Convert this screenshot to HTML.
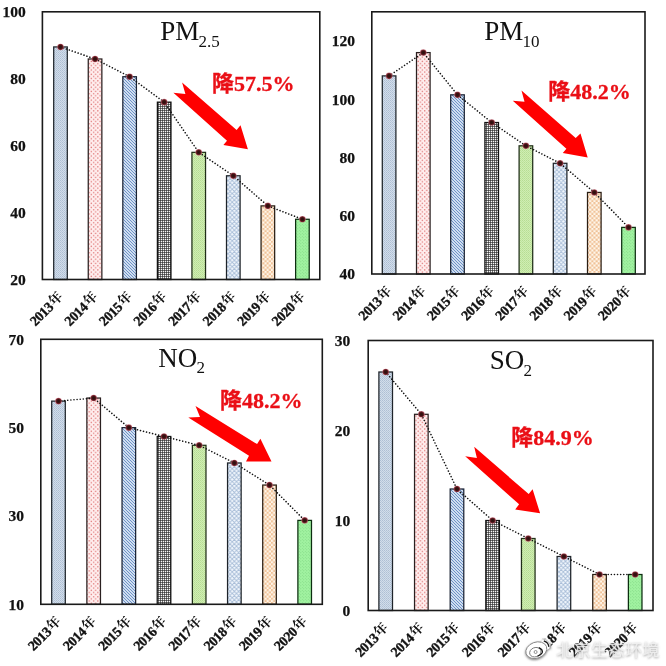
<!DOCTYPE html>
<html><head><meta charset="utf-8"><style>
html,body{margin:0;padding:0;background:#fff;width:666px;height:666px;overflow:hidden}
svg{display:block}
.yl{font-family:"Liberation Serif",serif;font-weight:bold;font-size:15.5px;text-anchor:end;fill:#111;stroke:#111;stroke-width:0.25px}
.xl{font-family:"Liberation Serif","Noto Serif CJK SC",serif;font-weight:bold;font-size:14px;text-anchor:end;fill:#111;stroke:#111;stroke-width:0.35px;letter-spacing:-0.4px}
.nian{font-family:"Noto Serif CJK SC",serif;font-weight:700;font-size:13.5px;stroke-width:0;letter-spacing:0}
.tt{font-family:"Liberation Serif",serif;font-size:27px;fill:#111}
.sub{font-size:17px}
.rt{font-family:"Liberation Serif",serif;font-weight:bold;font-size:22px;fill:#ea0f16;stroke:#ea0f16;stroke-width:0.3px}
.jiang{font-family:"Noto Sans CJK SC",sans-serif;font-weight:bold}
.wmt{font-family:"Liberation Sans","Noto Sans CJK SC",sans-serif;font-size:17px;fill:#f6f6f6;letter-spacing:0.2px}
</style></head><body>
<svg width="666" height="666" viewBox="0 0 666 666">
<defs>
<pattern id="p13" width="2" height="2" patternUnits="userSpaceOnUse">
 <rect width="2" height="2" fill="#d2ddea"/><rect width="1" height="1" fill="#aebfd4"/><rect x="1" y="1" width="1" height="1" fill="#b8c8db"/></pattern>
<pattern id="p14" width="4.3" height="4.3" patternUnits="userSpaceOnUse">
 <rect width="4.3" height="4.3" fill="#ffeeee"/><circle cx="1.1" cy="1.1" r="0.75" fill="#e07a7a"/><circle cx="3.25" cy="3.25" r="0.75" fill="#e07a7a"/></pattern>
<pattern id="p15" width="3" height="3" patternUnits="userSpaceOnUse">
 <rect width="3" height="3" fill="#f2f9ff"/><path d="M0 0L0.66 0L3 2.34L3 3L2.34 3L0 0.66Z M2.34 0L3 0L3 0.66Z M0 2.34L0 3L0.66 3Z" fill="#6288c2"/></pattern>
<pattern id="p16" width="2" height="2" patternUnits="userSpaceOnUse">
 <rect width="2" height="2" fill="#f8f8f8"/><rect width="2" height="0.62" fill="#222"/><rect width="0.62" height="2" fill="#222"/></pattern>
<pattern id="p17" width="2" height="2" patternUnits="userSpaceOnUse">
 <rect width="2" height="2" fill="#cfeeb2"/><rect width="1" height="1" fill="#b7dc94"/><rect x="1" y="1" width="1" height="1" fill="#bfe29e"/></pattern>
<pattern id="p18" width="4.3" height="4.3" patternUnits="userSpaceOnUse">
 <rect width="4.3" height="4.3" fill="#f2f7fd"/><path d="M0 0L2.15 2.15L0 4.3M4.3 0L2.15 2.15L4.3 4.3" fill="none" stroke="#a8bdd8" stroke-width="0.9"/></pattern>
<pattern id="p19" width="4.3" height="4.3" patternUnits="userSpaceOnUse">
 <rect width="4.3" height="4.3" fill="#fff6ea"/><rect width="2.15" height="2.15" fill="#f0c298"/><rect x="2.15" y="2.15" width="2.15" height="2.15" fill="#f0c298"/></pattern>
<pattern id="p20" width="3" height="3" patternUnits="userSpaceOnUse">
 <rect width="3" height="3" fill="#a0f2a0"/><circle cx="0.8" cy="0.8" r="0.42" fill="#62be68"/><circle cx="2.3" cy="2.3" r="0.42" fill="#72c878"/></pattern>
<radialGradient id="mk"><stop offset="0" stop-color="#2a0e0e"/><stop offset="0.5" stop-color="#3e1212"/><stop offset="0.78" stop-color="#7a2832"/><stop offset="1" stop-color="#c26a78" stop-opacity="0.85"/></radialGradient>
</defs>
<g><rect x="53.7" y="46.94" width="13.6" height="232.56" fill="url(#p13)" stroke="#1e2329" stroke-width="1.25"/>
<rect x="88.26" y="58.98" width="13.6" height="220.52" fill="url(#p14)" stroke="#2a2020" stroke-width="1.25"/>
<rect x="122.82" y="76.72" width="13.6" height="202.78" fill="url(#p15)" stroke="#1a2233" stroke-width="1.25"/>
<rect x="157.38" y="102.15" width="13.6" height="177.35" fill="url(#p16)" stroke="#111111" stroke-width="1.25"/>
<rect x="191.94" y="152.34" width="13.6" height="127.16" fill="url(#p17)" stroke="#1f2e17" stroke-width="1.25"/>
<rect x="226.5" y="175.77" width="13.6" height="103.73" fill="url(#p18)" stroke="#1e2329" stroke-width="1.25"/>
<rect x="261.06" y="205.88" width="13.6" height="73.62" fill="url(#p19)" stroke="#2a1e14" stroke-width="1.25"/>
<rect x="295.62" y="219.27" width="13.6" height="60.23" fill="url(#p20)" stroke="#0c2e10" stroke-width="1.25"/>
<rect x="42.4" y="11.8" width="277.4" height="267.7" fill="none" stroke="#1a1a1a" stroke-width="1.6"/>
<polyline points="60.5,46.94 95.06,58.98 129.62,76.72 164.18,102.15 198.74,152.34 233.3,175.77 267.86,205.88 302.42,219.27" fill="none" stroke="#111" stroke-width="1.6" stroke-linecap="round" stroke-dasharray="0.01 3.1"/>
<circle cx="60.5" cy="46.94" r="3.3" fill="url(#mk)"/>
<circle cx="95.06" cy="58.98" r="3.3" fill="url(#mk)"/>
<circle cx="129.62" cy="76.72" r="3.3" fill="url(#mk)"/>
<circle cx="164.18" cy="102.15" r="3.3" fill="url(#mk)"/>
<circle cx="198.74" cy="152.34" r="3.3" fill="url(#mk)"/>
<circle cx="233.3" cy="175.77" r="3.3" fill="url(#mk)"/>
<circle cx="267.86" cy="205.88" r="3.3" fill="url(#mk)"/>
<circle cx="302.42" cy="219.27" r="3.3" fill="url(#mk)"/>
<text x="25.8" y="284.9" class="yl">20</text>
<text x="25.8" y="217.97" class="yl">40</text>
<text x="25.8" y="151.05" class="yl">60</text>
<text x="25.8" y="84.12" class="yl">80</text>
<text x="25.8" y="17.2" class="yl">100</text>
<text x="64.3" y="297.9" class="xl" transform="rotate(-45 64.3 297.9)">2013<tspan class="nian" dx="0.9" dy="-0.9">年</tspan></text>
<text x="98.86" y="297.9" class="xl" transform="rotate(-45 98.86 297.9)">2014<tspan class="nian" dx="0.9" dy="-0.9">年</tspan></text>
<text x="133.42" y="297.9" class="xl" transform="rotate(-45 133.42 297.9)">2015<tspan class="nian" dx="0.9" dy="-0.9">年</tspan></text>
<text x="167.98" y="297.9" class="xl" transform="rotate(-45 167.98 297.9)">2016<tspan class="nian" dx="0.9" dy="-0.9">年</tspan></text>
<text x="202.54" y="297.9" class="xl" transform="rotate(-45 202.54 297.9)">2017<tspan class="nian" dx="0.9" dy="-0.9">年</tspan></text>
<text x="237.1" y="297.9" class="xl" transform="rotate(-45 237.1 297.9)">2018<tspan class="nian" dx="0.9" dy="-0.9">年</tspan></text>
<text x="271.66" y="297.9" class="xl" transform="rotate(-45 271.66 297.9)">2019<tspan class="nian" dx="0.9" dy="-0.9">年</tspan></text>
<text x="306.22" y="297.9" class="xl" transform="rotate(-45 306.22 297.9)">2020<tspan class="nian" dx="0.9" dy="-0.9">年</tspan></text>
<text x="160.2" y="40.4" class="tt">PM<tspan class="sub" dx="-0.8" dy="6.3">2.5</tspan></text>
<polygon points="182.1,82.6 236.6,130 240.5,125.2 247.9,149.2 223.4,145 227,140.8 173.4,92.8 185.4,94" fill="#ff0000"/>
<text x="212" y="90.5" class="rt"><tspan class="jiang">降</tspan>57.5%</text></g>
<g><rect x="382.3" y="75.89" width="13.6" height="198.11" fill="url(#p13)" stroke="#1e2329" stroke-width="1.25"/>
<rect x="416.5" y="52.59" width="13.6" height="221.41" fill="url(#p14)" stroke="#2a2020" stroke-width="1.25"/>
<rect x="450.7" y="94.83" width="13.6" height="179.17" fill="url(#p15)" stroke="#1a2233" stroke-width="1.25"/>
<rect x="484.9" y="122.51" width="13.6" height="151.49" fill="url(#p16)" stroke="#111111" stroke-width="1.25"/>
<rect x="519.1" y="145.81" width="13.6" height="128.19" fill="url(#p17)" stroke="#1f2e17" stroke-width="1.25"/>
<rect x="553.3" y="163.29" width="13.6" height="110.71" fill="url(#p18)" stroke="#1e2329" stroke-width="1.25"/>
<rect x="587.5" y="192.43" width="13.6" height="81.57" fill="url(#p19)" stroke="#2a1e14" stroke-width="1.25"/>
<rect x="621.7" y="227.39" width="13.6" height="46.61" fill="url(#p20)" stroke="#0c2e10" stroke-width="1.25"/>
<rect x="371.8" y="11.8" width="273.2" height="262.2" fill="none" stroke="#1a1a1a" stroke-width="1.6"/>
<polyline points="389.1,75.89 423.3,52.59 457.5,94.83 491.7,122.51 525.9,145.81 560.1,163.29 594.3,192.43 628.5,227.39" fill="none" stroke="#111" stroke-width="1.6" stroke-linecap="round" stroke-dasharray="0.01 3.1"/>
<circle cx="389.1" cy="75.89" r="3.3" fill="url(#mk)"/>
<circle cx="423.3" cy="52.59" r="3.3" fill="url(#mk)"/>
<circle cx="457.5" cy="94.83" r="3.3" fill="url(#mk)"/>
<circle cx="491.7" cy="122.51" r="3.3" fill="url(#mk)"/>
<circle cx="525.9" cy="145.81" r="3.3" fill="url(#mk)"/>
<circle cx="560.1" cy="163.29" r="3.3" fill="url(#mk)"/>
<circle cx="594.3" cy="192.43" r="3.3" fill="url(#mk)"/>
<circle cx="628.5" cy="227.39" r="3.3" fill="url(#mk)"/>
<text x="355" y="279.4" class="yl">40</text>
<text x="355" y="221.13" class="yl">60</text>
<text x="355" y="162.87" class="yl">80</text>
<text x="355" y="104.6" class="yl">100</text>
<text x="355" y="46.33" class="yl">120</text>
<text x="392.9" y="292.4" class="xl" transform="rotate(-45 392.9 292.4)">2013<tspan class="nian" dx="0.9" dy="-0.9">年</tspan></text>
<text x="427.1" y="292.4" class="xl" transform="rotate(-45 427.1 292.4)">2014<tspan class="nian" dx="0.9" dy="-0.9">年</tspan></text>
<text x="461.3" y="292.4" class="xl" transform="rotate(-45 461.3 292.4)">2015<tspan class="nian" dx="0.9" dy="-0.9">年</tspan></text>
<text x="495.5" y="292.4" class="xl" transform="rotate(-45 495.5 292.4)">2016<tspan class="nian" dx="0.9" dy="-0.9">年</tspan></text>
<text x="529.7" y="292.4" class="xl" transform="rotate(-45 529.7 292.4)">2017<tspan class="nian" dx="0.9" dy="-0.9">年</tspan></text>
<text x="563.9" y="292.4" class="xl" transform="rotate(-45 563.9 292.4)">2018<tspan class="nian" dx="0.9" dy="-0.9">年</tspan></text>
<text x="598.1" y="292.4" class="xl" transform="rotate(-45 598.1 292.4)">2019<tspan class="nian" dx="0.9" dy="-0.9">年</tspan></text>
<text x="632.3" y="292.4" class="xl" transform="rotate(-45 632.3 292.4)">2020<tspan class="nian" dx="0.9" dy="-0.9">年</tspan></text>
<text x="484.3" y="40.2" class="tt">PM<tspan class="sub" dx="-0.8" dy="6.3">10</tspan></text>
<polygon points="521.5,90.5 575.7,137.9 580.5,133.4 587.7,157.4 562.8,153.1 566.4,148.7 512.8,100.7 524.5,101.8" fill="#ff0000"/>
<text x="548.3" y="98.5" class="rt"><tspan class="jiang">降</tspan>48.2%</text></g>
<g><rect x="51.7" y="401.13" width="13.6" height="203.17" fill="url(#p13)" stroke="#1e2329" stroke-width="1.25"/>
<rect x="86.87" y="398.04" width="13.6" height="206.26" fill="url(#p14)" stroke="#2a2020" stroke-width="1.25"/>
<rect x="122.04" y="427.63" width="13.6" height="176.67" fill="url(#p15)" stroke="#1a2233" stroke-width="1.25"/>
<rect x="157.21" y="436.47" width="13.6" height="167.83" fill="url(#p16)" stroke="#111111" stroke-width="1.25"/>
<rect x="192.38" y="445.3" width="13.6" height="159" fill="url(#p17)" stroke="#1f2e17" stroke-width="1.25"/>
<rect x="227.55" y="462.97" width="13.6" height="141.33" fill="url(#p18)" stroke="#1e2329" stroke-width="1.25"/>
<rect x="262.72" y="485.05" width="13.6" height="119.25" fill="url(#p19)" stroke="#2a1e14" stroke-width="1.25"/>
<rect x="297.89" y="520.38" width="13.6" height="83.92" fill="url(#p20)" stroke="#0c2e10" stroke-width="1.25"/>
<rect x="40.8" y="339.3" width="281.5" height="265" fill="none" stroke="#1a1a1a" stroke-width="1.6"/>
<polyline points="58.5,401.13 93.67,398.04 128.84,427.63 164.01,436.47 199.18,445.3 234.35,462.97 269.52,485.05 304.69,520.38" fill="none" stroke="#111" stroke-width="1.6" stroke-linecap="round" stroke-dasharray="0.01 3.1"/>
<circle cx="58.5" cy="401.13" r="3.3" fill="url(#mk)"/>
<circle cx="93.67" cy="398.04" r="3.3" fill="url(#mk)"/>
<circle cx="128.84" cy="427.63" r="3.3" fill="url(#mk)"/>
<circle cx="164.01" cy="436.47" r="3.3" fill="url(#mk)"/>
<circle cx="199.18" cy="445.3" r="3.3" fill="url(#mk)"/>
<circle cx="234.35" cy="462.97" r="3.3" fill="url(#mk)"/>
<circle cx="269.52" cy="485.05" r="3.3" fill="url(#mk)"/>
<circle cx="304.69" cy="520.38" r="3.3" fill="url(#mk)"/>
<text x="24.1" y="609.7" class="yl">10</text>
<text x="24.1" y="521.37" class="yl">30</text>
<text x="24.1" y="433.03" class="yl">50</text>
<text x="24.1" y="344.7" class="yl">70</text>
<text x="62.3" y="622.7" class="xl" transform="rotate(-45 62.3 622.7)">2013<tspan class="nian" dx="0.9" dy="-0.9">年</tspan></text>
<text x="97.47" y="622.7" class="xl" transform="rotate(-45 97.47 622.7)">2014<tspan class="nian" dx="0.9" dy="-0.9">年</tspan></text>
<text x="132.64" y="622.7" class="xl" transform="rotate(-45 132.64 622.7)">2015<tspan class="nian" dx="0.9" dy="-0.9">年</tspan></text>
<text x="167.81" y="622.7" class="xl" transform="rotate(-45 167.81 622.7)">2016<tspan class="nian" dx="0.9" dy="-0.9">年</tspan></text>
<text x="202.98" y="622.7" class="xl" transform="rotate(-45 202.98 622.7)">2017<tspan class="nian" dx="0.9" dy="-0.9">年</tspan></text>
<text x="238.15" y="622.7" class="xl" transform="rotate(-45 238.15 622.7)">2018<tspan class="nian" dx="0.9" dy="-0.9">年</tspan></text>
<text x="273.32" y="622.7" class="xl" transform="rotate(-45 273.32 622.7)">2019<tspan class="nian" dx="0.9" dy="-0.9">年</tspan></text>
<text x="308.49" y="622.7" class="xl" transform="rotate(-45 308.49 622.7)">2020<tspan class="nian" dx="0.9" dy="-0.9">年</tspan></text>
<text x="158.3" y="367" class="tt">NO<tspan class="sub" dx="-0.8" dy="5.7">2</tspan></text>
<polygon points="195.5,406 257.1,444.1 260.4,438.7 271.5,461.5 246,461.5 249,455.8 188.3,417.4 200,417.1" fill="#ff0000"/>
<text x="220" y="407.5" class="rt"><tspan class="jiang">降</tspan>48.2%</text></g>
<g><rect x="378.9" y="372" width="13.6" height="238.5" fill="url(#p13)" stroke="#1e2329" stroke-width="1.25"/>
<rect x="414.54" y="414.3" width="13.6" height="196.2" fill="url(#p14)" stroke="#2a2020" stroke-width="1.25"/>
<rect x="450.18" y="489" width="13.6" height="121.5" fill="url(#p15)" stroke="#1a2233" stroke-width="1.25"/>
<rect x="485.82" y="520.5" width="13.6" height="90" fill="url(#p16)" stroke="#111111" stroke-width="1.25"/>
<rect x="521.46" y="538.5" width="13.6" height="72" fill="url(#p17)" stroke="#1f2e17" stroke-width="1.25"/>
<rect x="557.1" y="556.5" width="13.6" height="54" fill="url(#p18)" stroke="#1e2329" stroke-width="1.25"/>
<rect x="592.74" y="574.5" width="13.6" height="36" fill="url(#p19)" stroke="#2a1e14" stroke-width="1.25"/>
<rect x="628.38" y="574.5" width="13.6" height="36" fill="url(#p20)" stroke="#0c2e10" stroke-width="1.25"/>
<rect x="368.2" y="340.5" width="284.8" height="270" fill="none" stroke="#1a1a1a" stroke-width="1.6"/>
<polyline points="385.7,372 421.34,414.3 456.98,489 492.62,520.5 528.26,538.5 563.9,556.5 599.54,574.5 635.18,574.5" fill="none" stroke="#111" stroke-width="1.6" stroke-linecap="round" stroke-dasharray="0.01 3.1"/>
<circle cx="385.7" cy="372" r="3.3" fill="url(#mk)"/>
<circle cx="421.34" cy="414.3" r="3.3" fill="url(#mk)"/>
<circle cx="456.98" cy="489" r="3.3" fill="url(#mk)"/>
<circle cx="492.62" cy="520.5" r="3.3" fill="url(#mk)"/>
<circle cx="528.26" cy="538.5" r="3.3" fill="url(#mk)"/>
<circle cx="563.9" cy="556.5" r="3.3" fill="url(#mk)"/>
<circle cx="599.54" cy="574.5" r="3.3" fill="url(#mk)"/>
<circle cx="635.18" cy="574.5" r="3.3" fill="url(#mk)"/>
<text x="350.3" y="615.9" class="yl">0</text>
<text x="350.3" y="525.9" class="yl">10</text>
<text x="350.3" y="435.9" class="yl">20</text>
<text x="350.3" y="345.9" class="yl">30</text>
<text x="389.5" y="628.9" class="xl" transform="rotate(-45 389.5 628.9)">2013<tspan class="nian" dx="0.9" dy="-0.9">年</tspan></text>
<text x="425.14" y="628.9" class="xl" transform="rotate(-45 425.14 628.9)">2014<tspan class="nian" dx="0.9" dy="-0.9">年</tspan></text>
<text x="460.78" y="628.9" class="xl" transform="rotate(-45 460.78 628.9)">2015<tspan class="nian" dx="0.9" dy="-0.9">年</tspan></text>
<text x="496.42" y="628.9" class="xl" transform="rotate(-45 496.42 628.9)">2016<tspan class="nian" dx="0.9" dy="-0.9">年</tspan></text>
<text x="532.06" y="628.9" class="xl" transform="rotate(-45 532.06 628.9)">2017<tspan class="nian" dx="0.9" dy="-0.9">年</tspan></text>
<text x="567.7" y="628.9" class="xl" transform="rotate(-45 567.7 628.9)">2018<tspan class="nian" dx="0.9" dy="-0.9">年</tspan></text>
<text x="603.34" y="628.9" class="xl" transform="rotate(-45 603.34 628.9)">2019<tspan class="nian" dx="0.9" dy="-0.9">年</tspan></text>
<text x="638.98" y="628.9" class="xl" transform="rotate(-45 638.98 628.9)">2020<tspan class="nian" dx="0.9" dy="-0.9">年</tspan></text>
<text x="489.8" y="369" class="tt">SO<tspan class="sub" dx="-0.8" dy="6.5">2</tspan></text>
<polygon points="474.2,446.8 528.7,494.1 532.6,489.3 540.1,513.3 515.2,509.4 519.1,504.3 465.2,456.2 476.9,458" fill="#ff0000"/>
<text x="511.2" y="445" class="rt"><tspan class="jiang">降</tspan>84.9%</text></g>
<defs><filter id="ds" x="-10%" y="-30%" width="120%" height="160%"><feGaussianBlur in="SourceAlpha" stdDeviation="0.8"/><feOffset dx="0.3" dy="0.5" result="b"/><feFlood flood-color="#666" flood-opacity="0.85"/><feComposite in2="b" operator="in"/><feMerge><feMergeNode/><feMergeNode in="SourceGraphic"/></feMerge></filter><filter id="ds2" x="-10%" y="-40%" width="120%" height="180%"><feGaussianBlur in="SourceAlpha" stdDeviation="0.9"/><feOffset dx="0.4" dy="0.6" result="b"/><feFlood flood-color="#8a8a8a" flood-opacity="0.8"/><feComposite in2="b" operator="in" result="sh"/><feFlood flood-color="#f2f2f2" flood-opacity="0.78"/><feComposite in2="SourceAlpha" operator="in" result="tx"/><feMerge><feMergeNode in="sh"/><feMergeNode in="tx"/></feMerge></filter></defs>
<g filter="url(#ds)">
<ellipse cx="545.5" cy="644.5" rx="5" ry="5.5" fill="#fff"/>
<ellipse cx="536.3" cy="650.2" rx="10.8" ry="8" transform="rotate(-20 536.3 650.2)" fill="#fff" stroke="#8a8a8a" stroke-width="0.9"/>
<ellipse cx="535.3" cy="652.2" rx="5.8" ry="4.6" transform="rotate(-20 535.3 652.2)" fill="none" stroke="#7a7a7a" stroke-width="0.9"/>
<circle cx="535.6" cy="652" r="1.5" fill="none" stroke="#777" stroke-width="0.8"/>
<path d="M538.8 647.6 Q543.2 649.5 542.2 652.8 Q541 655.2 537.6 656.2" fill="none" stroke="#1a1a1a" stroke-width="1.3"/>
<path d="M543.8 640.8 Q548.6 642.4 548.9 646.9" fill="none" stroke="#1a1a1a" stroke-width="1.3"/>
<path d="M542.5 638.8 Q550.5 640 550.6 648.5" fill="none" stroke="#aaa" stroke-width="0.8"/>
</g>
<g filter="url(#ds2)"><text x="556.5" y="655.8" class="wmt">北京生态环境</text></g>
</svg>
</body></html>
